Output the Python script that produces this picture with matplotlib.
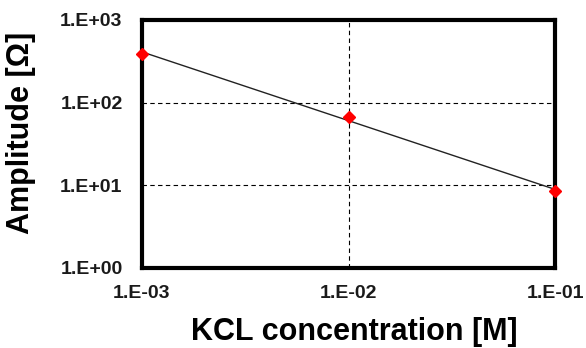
import numpy as np
import matplotlib
matplotlib.use("Agg")
from matplotlib import pyplot as plt
from matplotlib import ticker

# KCl concentration [M] and measured amplitude [Ohm]
concentration = [1e-3, 1e-2, 1e-1]
amplitude = [391, 67, 8.5]
x_ticks = [1e-3, 1e-2, 1e-1]
x_tick_labels = ["1.E-03", "1.E-02", "1.E-01"]
y_ticks = [1, 10, 100, 1000]
y_tick_labels = ["1.E+00", "1.E+01", "1.E+02", "1.E+03"]

plt.rcParams["font.family"] = ["Liberation Sans", "DejaVu Sans"]
plt.rcParams["font.weight"] = "bold"


def power_trend(x, y):
    # excel style power trendline: straight fit in log-log space
    slope, icept = np.polyfit(np.log10(x), np.log10(y), 1)
    xs = np.array([min(x), max(x)])
    return xs, 10 ** (icept + slope * np.log10(xs))


def main():
    fig = plt.figure(figsize=(5.86, 3.48), dpi=100)
    ax = fig.add_axes([142 / 586, 1 - 268 / 348, (555 - 142) / 586, (268 - 20) / 348])
    ax.set_xscale("log")
    ax.set_yscale("log")
    ax.set_xlim(1e-3, 1e-1)
    ax.set_ylim(1, 1000)

    tx, ty = power_trend(concentration, amplitude)
    ax.plot(tx, ty, color="#222222", lw=1.0, zorder=3)
    ax.plot(concentration, amplitude, ls="none", marker="D", ms=6.5,
            color="#ff0000", mec="#ff0000", zorder=4, clip_on=False)

    ax.set_xticks(x_ticks)
    ax.set_xticklabels(x_tick_labels)
    ax.set_yticks(y_ticks)
    ax.set_yticklabels(y_tick_labels)
    ax.xaxis.set_minor_locator(ticker.NullLocator())
    ax.yaxis.set_minor_locator(ticker.NullLocator())
    ax.tick_params(length=0, labelsize=14)
    ax.tick_params(axis="x", pad=12)
    ax.tick_params(axis="y", pad=14)
    for lab in ax.get_xticklabels() + ax.get_yticklabels():
        lab.set_fontweight("bold")
        lab.set_color("#1a1a1a")

    ax.grid(True, which="major", color="black", ls=(0, (4, 3)), lw=0.8)
    for sp in ax.spines.values():
        sp.set_linewidth(3)
        sp.set_color("black")

    fig.text(354 / 586, 1 - 340 / 348, "KCL concentration [M]", ha="center",
             va="baseline", fontsize=22, fontweight="bold")
    fig.text(21.5 / 586, 1 - 133 / 348, "Amplitude [Ω]", ha="center",
             va="center", rotation=90, fontsize=22, fontweight="bold")

    fig.savefig("out.png", dpi=100)


if __name__ == "__main__":
    main()
